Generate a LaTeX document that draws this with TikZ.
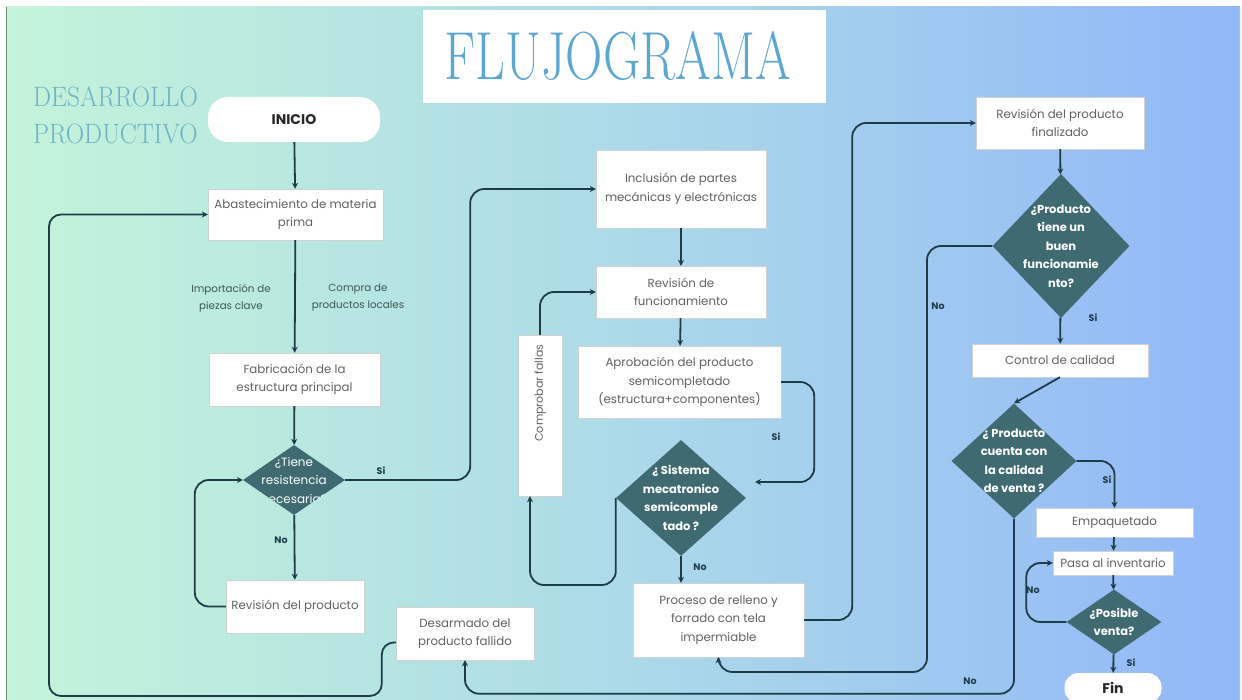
\documentclass[tikz,border=0pt]{standalone}
\usepackage{fontspec}
\usepackage{graphicx}
\usetikzlibrary{shapes.geometric,arrows.meta,calc}
\newfontfamily\pop{Poppins}
\definecolor{bgL}{RGB}{196,244,218}
\definecolor{bgM}{RGB}{172,218,232}
\definecolor{bgR}{RGB}{146,183,248}
\definecolor{dteal}{RGB}{63,106,113}
\definecolor{lnc}{RGB}{30,60,72}
\definecolor{ttl}{RGB}{92,166,210}
\definecolor{ttl2}{RGB}{110,178,200}
\definecolor{lbl}{RGB}{60,88,80}
\tikzset{
  box/.style={draw=black!18, fill=white, align=center, inner sep=1pt,
    font=\pop\fontsize{11.8}{18.5}\selectfont, text=black!62},
  pill/.style={fill=white, draw=none, rounded corners=20pt, align=center,
    font=\pop\bfseries\fontsize{14}{16}\selectfont, text=black!85},
  dia/.style={shape=diamond, fill=dteal, draw=none, inner sep=0pt},
  dtxt/.style={text=white, align=center, font=\pop\bfseries\fontsize{11.5}{18.5}\selectfont},
  conn/.style={draw=lnc, line width=1.8pt, rounded corners=14pt,
    -{Stealth[length=6pt,width=6pt]}},
  yn/.style={font=\pop\bfseries\fontsize{9.5}{11}\selectfont, text=lnc},
  side/.style={font=\pop\fontsize{10.3}{17}\selectfont, text=lbl, align=center}
}
\begin{document}
\begin{tikzpicture}[x=1pt,y=-1pt]
\useasboundingbox (0,0) rectangle (1242,700);
\fill[white] (0,0) rectangle (1242,700);
\shade[left color=bgL, right color=bgR, middle color=bgM] (6,7) rectangle (1240,700);
\draw[color={rgb,255:red,110;green,150;blue,120}, line width=1.5pt] (6.5,7) -- (6.5,700);
\draw[color={rgb,255:red,170;green,195;blue,235}, line width=1pt] (1239.5,7) -- (1239.5,700);
% title
\node[fill=white, minimum width=403, minimum height=93, inner sep=0] (title) at (624.5,56.5) {};
\node[text=ttl, font=\fontsize{68}{68}\selectfont, inner sep=0] (ttltext) at (618,56) {\scalebox{0.76}[1]{FLUJOGRAMA}};
\node[text=ttl2, font=\fontsize{28}{37}\selectfont, inner sep=0, align=left, anchor=north west] (dp) at (33,87) {\scalebox{0.91}[1]{DESARROLLO}\\\scalebox{0.91}[1]{PRODUCTIVO}};
% nodes
\node[pill, minimum width=172, minimum height=45] (ini) at (294,119.5) {INICIO};
\node[box, minimum width=175, minimum height=51] (abast) at (295.5,214.5) {Abastecimiento de materia\\prima};
\node[side] (imp) at (231,298) {Importación de\\piezas clave};
\node[side] (comp2) at (358,298) {Compra de\\productos locales};
\node[box, minimum width=171, minimum height=53] (fab) at (294.5,379.5) {Fabricación de la\\estructura principal};
\node[dia, minimum width=102, minimum height=70,
  path picture={\node[text=white, align=center, font=\pop\fontsize{12}{18.5}\selectfont] at (path picture bounding box.center) {¿Tiene\\resistencia\\necesaria?};}] (d1) at (294,480) {};
\node[box, minimum width=138, minimum height=53] (rev1) at (295,606.5) {Revisión del producto};
\node[box, minimum width=138, minimum height=53] (des) at (465,633.5) {Desarmado del\\producto fallido};
\node[box, minimum width=170, minimum height=78] (incl) at (681,189) {Inclusión de partes\\mecánicas y electrónicas};
\node[box, minimum width=170, minimum height=52] (revf) at (681,292) {Revisión de\\funcionamiento};
\node[box, minimum width=203, minimum height=72] (apr) at (679.5,382) {Aprobación del producto\\semicompletado\\(estructura+componentes)};
\node[box, minimum width=44, minimum height=161] (comp) at (540,415.5) {};
\node[font=\pop\fontsize{11}{13}\selectfont, text=black!62, rotate=90] (comptxt) at (540,393) {Comprobar fallas};
\node[dia, minimum width=130, minimum height=116,
  path picture={\node[dtxt] at (path picture bounding box.center) {¿ Sistema\\mecatronico\\semicomple\\tado ?};}] (d2) at (681,498) {};
\node[box, minimum width=171, minimum height=74] (proc) at (718.5,620) {Proceso de relleno y\\forrado con tela\\impermiable};
\node[box, minimum width=168, minimum height=52] (revfin) at (1060,123) {Revisión del producto\\finalizado};
\node[dia, minimum width=137, minimum height=144,
  path picture={\node[dtxt] at (path picture bounding box.center) {¿Producto\\tiene un\\buen\\funcionamie\\nto?};}] (d3) at (1061,246) {};
\node[box, minimum width=176, minimum height=33] (ctrl) at (1060,360.5) {Control de calidad};
\node[dia, minimum width=125, minimum height=115,
  path picture={\node[dtxt] at (path picture bounding box.center) {¿ Producto\\cuenta con\\la calidad\\de venta ?};}] (d4) at (1014,461) {};
\node[box, minimum width=157, minimum height=29] (emp) at (1114.5,522.5) {Empaquetado};
\node[box, minimum width=120, minimum height=24] (pasa) at (1113,563) {Pasa al inventario};
\node[dia, minimum width=95, minimum height=65,
  path picture={\node[dtxt] at (path picture bounding box.center) {¿Posible\\venta?};}] (d5) at (1114,622) {};
\node[pill, minimum width=97, minimum height=30, rounded corners=14pt] (fin) at (1113,688) {Fin};
% connectors
\coordinate (sitip) at (755,482);
\draw[conn] (ini) -- (abast);
\draw[conn] (abast) -- (fab);
\draw[conn] (fab) -- (d1);
\draw[conn] (d1) -- (rev1);
\draw[conn] (rev1.west) -- ++(-31,0) |- (d1.west);
\draw[conn] (d1.east) -- ++(125,0) |- (incl.west);
\draw[conn] (incl) -- (revf);
\draw[conn] (revf) -- (apr);
\draw[conn] (apr.east) -- ++(33,0) |- (sitip);
\draw[conn] (d2.west) -- ++(0,87) -| ([xshift=-10pt]comp.south);
\draw[conn] (comp.north) |- (revf.west);
\draw[conn] (d2.south) -- (d2.south |- proc.north);
\draw[conn] (proc.east) -- ++(48,0) |- (revfin.west);
\draw[conn] (revfin) -- (d3);
\draw[conn] (d3) -- (ctrl);
\draw[conn] (d3.west) -| (927,672) -| (proc.south);
\draw[conn, rounded corners=0pt] (ctrl.south) -- (d4.north);
\draw[conn] (d4.east) -| (emp.north);
\draw[conn] (emp) -- (pasa);
\draw[conn] (pasa) -- (d5);
\draw[conn] (d5.west) -- ++(-40,0) |- (pasa.west);
\draw[conn] (d5) -- (fin);
\draw[conn] (d4.south) -- ++(0,175) -| (des.south);
\draw[conn, rounded corners=12pt] ([yshift=-9pt]des.west) -- ++(-14,0) |- (49,696) |- (abast.west);
% labels
\node[yn] (l1) at (281,540) {No};
\node[yn] (l2) at (381,471) {Si};
\node[yn] (l3) at (776,437) {Si};
\node[yn] (l4) at (700,567) {No};
\node[yn] (l5) at (938,306) {No};
\node[yn] (l6) at (1093,318) {Si};
\node[yn] (l7) at (1107,480) {Si};
\node[yn] (l8) at (1033,590) {No};
\node[yn] (l9) at (1131,663) {Si};
\node[yn] (l10) at (970,681) {No};
\end{tikzpicture}
\end{document}
